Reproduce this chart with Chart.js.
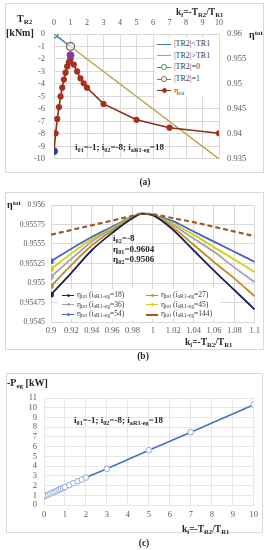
<!DOCTYPE html>
<html>
<head>
<meta charset="utf-8">
<script src="https://cdn.jsdelivr.net/npm/chart.js@4.4.1/dist/chart.umd.min.js"></script>
<style>
  body { margin: 0; background: #fff; }
  #page { position: relative; width: 268px; height: 550px; overflow: hidden; font-family: "Liberation Serif", serif; color: #262626; }
  .box { position: absolute; border: 1px solid #d9d9d9; box-sizing: border-box; }
  canvas { position: absolute; }
  .t { position: absolute; white-space: nowrap; font-weight: bold; font-size: 9.5px; line-height: 10px; }
  .t sub { font-size: 70%; vertical-align: -0.3em; line-height: 0; }
  .t sup { font-size: 70%; vertical-align: 0.45em; line-height: 0; }
  .cap { position: absolute; font-weight: bold; font-size: 9.5px; line-height: 10px; transform: translateX(-50%); }
  .bg { position: absolute; background: #fff; }
  .li { position: absolute; height: 10px; font-size: 8px; line-height: 10px; color: #404040; white-space: nowrap; }
  .li .ln { position: absolute; left: 0; top: 4.5px; height: 0; }
  .li .mk { position: absolute; border-radius: 50%; box-sizing: border-box; }
  .li .lt { position: absolute; top: 0; }
  .li sub { font-size: 75%; vertical-align: -0.25em; line-height: 0; }
</style>
</head>
<body>
<div id="page">
  <!-- (a) -->
  <div class="box" style="left:5px;top:3px;width:259px;height:170px"></div>
  <canvas id="chartA" width="259" height="170" style="left:5px;top:3px"></canvas>
  <div class="t" style="left:17px;top:14px;font-size:10px">T<sub>R2</sub></div>
  <div class="t" style="left:6px;top:28px;font-size:10px">[kNm]</div>
  <div class="t" style="left:176px;top:7px">k<sub>l</sub>=-T<sub>R2</sub>/T<sub>R1</sub></div>
  <div class="t" style="left:249px;top:30px;font-size:10px">η<sup>tot</sup></div>
  <div class="bg" style="left:155px;top:38px;width:64px;height:59px"></div>
  <div class="t" style="left:75px;top:142px;font-size:9px">i<sub>01</sub>=-1; i<sub>02</sub>=-8; i<sub>aR1-eg</sub>=18</div>
  <div class="cap" style="left:145px;top:177px">(a)</div>

  <!-- (b) -->
  <div class="box" style="left:5px;top:192px;width:259px;height:158px"></div>
  <canvas id="chartB" width="259" height="158" style="left:5px;top:192px"></canvas>
  <div class="t" style="left:7px;top:200px;font-size:10px">η<sup>tot</sup></div>
  <div class="t" style="left:185px;top:337px">k<sub>l</sub>=-T<sub>R2</sub>/T<sub>R1</sub></div>
  <div class="t" style="left:113px;top:233px;font-size:9px">i<sub>02</sub>=-8</div>
  <div class="t" style="left:113px;top:243.5px;font-size:9px">η<sub>01</sub>=0.9604</div>
  <div class="t" style="left:113px;top:253.5px;font-size:9px">η<sub>02</sub>=0.9506</div>
  <div class="bg" style="left:58px;top:289px;width:163px;height:30px"></div>
  <div class="cap" style="left:143px;top:350.5px">(b)</div>

  <!-- (c) -->
  <div class="box" style="left:6px;top:373px;width:257px;height:160px"></div>
  <canvas id="chartC" width="257" height="160" style="left:6px;top:373px"></canvas>
  <div class="t" style="left:7px;top:378px;font-size:10px">-P<sub>eg</sub> [kW]</div>
  <div class="t" style="left:74px;top:414.5px;font-size:9px">i<sub>01</sub>=-1; i<sub>02</sub>=-8; i<sub>aR1-eg</sub>=18</div>
  <div class="t" style="left:182px;top:524px">k<sub>l</sub>=-T<sub>R2</sub>/T<sub>R1</sub></div>
  <div class="cap" style="left:144px;top:538px">(c)</div>
</div>
<script>
// (a) torque lines and total efficiency vs kl
const kLow = [0, 1];
const tr2Low = [0, -1];
const kHigh = [1, 10];
const tr2High = [-1, -10];
const kZero = [0];
const tr2Zero = [0];
const kOne = [1];
const tr2One = [-1];
const kEta = [0, 0.1, 0.2, 0.3, 0.4, 0.5, 0.6, 0.7, 0.8, 0.9, 1, 1.2, 1.4, 1.6, 1.8, 2, 3, 5, 7, 10];
const etaTot = [0.93663, 0.94013, 0.943, 0.94538, 0.9475, 0.94925, 0.95088, 0.95225, 0.9535, 0.95438, 0.955,
  0.95388, 0.9525, 0.95113, 0.95013, 0.94925, 0.946, 0.94283, 0.94125, 0.94013];
const kEtaMark = [0, 1];
const etaMark = [0.93655, 0.95575];

// (b) zoom around kl = 1 for several iaR1-eg
const kZoom = [0.9, 0.92, 0.94, 0.96, 0.98, 0.99, 1, 1.02, 1.04, 1.06, 1.08, 1.1];
const eta18 = [0.95485, 0.95513, 0.95542, 0.95564, 0.95583, 0.95589, 0.95587, 0.95568, 0.95542, 0.95516, 0.95491, 0.95466];
const eta27 = [0.95496, 0.95523, 0.95548, 0.95567, 0.95584, 0.95589, 0.95587, 0.95571, 0.95549, 0.95527, 0.95506, 0.95483];
const eta36 = [0.95508, 0.95531, 0.95553, 0.95569, 0.95584, 0.95589, 0.95587, 0.95574, 0.95557, 0.9554, 0.9552, 0.95501];
const eta45 = [0.95518, 0.95538, 0.95556, 0.9557, 0.95585, 0.95589, 0.95587, 0.95576, 0.95562, 0.95546, 0.9553, 0.95514];
const eta54 = [0.95528, 0.95544, 0.95559, 0.95572, 0.95585, 0.95589, 0.95587, 0.95579, 0.95566, 0.95553, 0.9554, 0.95527];
const eta144 = [0.95562, 0.95568, 0.95574, 0.9558, 0.95586, 0.95589, 0.95588, 0.95583, 0.95578, 0.95572, 0.95566, 0.9556];

// (c) generated power
const kPeg = [0, 0.1, 0.2, 0.3, 0.4, 0.5, 0.6, 0.7, 0.8, 0.9, 1, 1.2, 1.4, 1.6, 1.8, 2, 3, 5, 7, 10];
const pegKw = [0.88, 0.98, 1.07, 1.17, 1.27, 1.36, 1.46, 1.56, 1.65, 1.75, 1.85, 2.04, 2.24, 2.43, 2.62, 2.82, 3.73, 5.63, 7.48, 10.32];

Chart.defaults.font.family = "'Liberation Serif', serif";
Chart.defaults.color = '#595959';
Chart.defaults.animation = false;
Chart.defaults.events = [];
Chart.defaults.plugins.legend.display = false;
Chart.defaults.plugins.tooltip.enabled = false;

const GRID = '#d9d9d9';
const pts = (xs, ys) => xs.map((x, i) => ({ x: x, y: ys[i] }));

// HTML legend built from the datasets
function drawLegend(chart, place) {
  const page = document.getElementById('page');
  chart.data.datasets
    .filter((d) => d.legendOrder !== undefined)
    .sort((a, b) => a.legendOrder - b.legendOrder)
    .forEach((d, i) => {
      const p = place(i);
      const item = document.createElement('div');
      item.className = 'li';
      item.style.left = p.x + 'px';
      item.style.top = (p.y - 5) + 'px';
      item.style.fontSize = p.size + 'px';
      const style = d.borderDash ? 'dashed' : 'solid';
      let html = '<span class="ln" style="width:' + p.w + 'px;border-top:' + (d.legendLine || 1.5) + 'px ' + style + ' ' + d.borderColor + '"></span>';
      if (d.legendMarker) {
        const m = d.legendMarker;
        html += '<span class="mk" style="left:' + (p.w / 2 - m.r) + 'px;top:' + (5 - m.r) + 'px;width:' + (2 * m.r) + 'px;height:' + (2 * m.r) +
          'px;background:' + m.fill + ';border:' + m.bw + 'px solid ' + m.stroke + '"></span>';
      }
      html += '<span class="lt" style="left:' + p.tx + 'px"></span>';
      item.innerHTML = html;
      const text = item.querySelector('.lt');
      if (d.labelHtml) text.innerHTML = d.labelHtml;
      else text.textContent = d.label;
      page.appendChild(item);
    });
}

// chart (a)
const chartA = new Chart(document.getElementById('chartA'), {
  type: 'scatter',
  data: {
    datasets: [
      {
        label: 'ηtot limits', data: pts(kEtaMark, etaMark), yAxisID: 'y2', showLine: false,
        pointRadius: 3.5, pointBackgroundColor: ['#3F3F8F', '#7B3F9E'], pointBorderColor: ['#3F3F8F', '#7B3F9E']
      },
      {
        label: '|TR2|=0', legendOrder: 2, data: pts(kZero, tr2Zero), yAxisID: 'y', showLine: false,
        borderColor: '#3E9B3E', pointRadius: 4, pointBorderWidth: 1.5, pointBorderColor: '#3E9B3E', pointBackgroundColor: 'rgba(200,240,200,0.4)',
        legendMarker: { r: 3, fill: '#fff', stroke: '#3E9B3E', bw: 1.2 }
      },
      {
        label: '|TR2|=1', legendOrder: 3, data: pts(kOne, tr2One), yAxisID: 'y', showLine: false,
        borderColor: '#8E6E4E', pointRadius: 4, pointBorderWidth: 1.5, pointBorderColor: '#8E6E4E', pointBackgroundColor: 'rgba(255,255,255,0.6)',
        legendMarker: { r: 3, fill: '#fff', stroke: '#8E6E4E', bw: 1.2 }
      },
      {
        label: 'ηtot', labelHtml: 'η<sub>tot</sub>', legendOrder: 4, data: pts(kEta, etaTot), yAxisID: 'y2', showLine: true,
        borderColor: '#8C2D19', borderWidth: 1.6, pointRadius: 2.3, pointBackgroundColor: '#A5321B', pointBorderColor: '#A5321B',
        legendMarker: { r: 2.5, fill: '#A5321B', stroke: '#A5321B', bw: 1 }
      },
      {
        label: '|TR2|<TR1', legendOrder: 0, data: pts(kLow, tr2Low), yAxisID: 'y', showLine: true,
        borderColor: '#4472C4', borderWidth: 1.5, pointRadius: 0
      },
      {
        label: '|TR2|>TR1', legendOrder: 1, data: pts(kHigh, tr2High), yAxisID: 'y', showLine: true,
        borderColor: '#BFA346', borderWidth: 1.5, pointRadius: 0
      }
    ]
  },
  options: {
    responsive: false,
    layout: { padding: { bottom: 9 } },
    scales: {
      x: {
        type: 'linear', position: 'top', min: 0, max: 10,
        ticks: { stepSize: 1, padding: 6, font: { size: 8 }, maxRotation: 0, autoSkip: false },
        grid: { color: GRID, drawTicks: false }, border: { display: false },
        afterFit: (s) => { s.height = 31; }
      },
      y: {
        position: 'left', min: -10, max: 0,
        ticks: { stepSize: 1, padding: 9, font: { size: 8.5 }, autoSkip: false },
        grid: { color: GRID, drawTicks: false }, border: { display: false },
        afterFit: (s) => { s.width = 49; }
      },
      y2: {
        position: 'right', min: 0.935, max: 0.96,
        ticks: { stepSize: 0.005, padding: 8, font: { size: 8.5 }, autoSkip: false, callback: (v) => +v.toFixed(3) },
        grid: { display: false, drawTicks: false }, border: { display: false },
        afterFit: (s) => { s.width = 45; }
      }
    }
  }
});
drawLegend(chartA, (i) => ({ x: 157, y: 44 + i * 11.7, w: 14, tx: 17, size: 8 }));

// chart (b)
const firstDot = (ctx) => (ctx.dataIndex === 0 ? 2 : 0);
function zoomSet(label, ys, color, order, dashed) {
  return {
    label: 'ηtot (iaR1-eg=' + label + ')',
    labelHtml: 'η<sub>tot</sub> (i<sub>aR1-eg</sub>=' + label + ')',
    legendOrder: order,
    data: pts(kZoom, ys),
    showLine: true,
    cubicInterpolationMode: 'monotone',
    borderColor: color,
    borderWidth: dashed ? 2.2 : 1.8,
    borderDash: dashed ? [5, 3] : undefined,
    pointRadius: dashed ? 0 : firstDot,
    pointBackgroundColor: color,
    pointBorderColor: color,
    legendLine: dashed ? 2 : 1.8,
    legendMarker: dashed ? null : { r: 1.5, fill: color, stroke: color, bw: 1 }
  };
}
const chartB = new Chart(document.getElementById('chartB'), {
  type: 'scatter',
  data: {
    datasets: [
      zoomSet('144', eta144, '#9A5A2A', 5, true),
      zoomSet('18', eta18, '#1F1F5C', 0),
      zoomSet('27', eta27, '#BF9020', 1),
      zoomSet('36', eta36, '#A5A5A5', 2),
      zoomSet('45', eta45, '#CFCF10', 3),
      zoomSet('54', eta54, '#4466C4', 4)
    ]
  },
  options: {
    responsive: false,
    layout: { padding: { top: 13, right: 7 } },
    scales: {
      x: {
        type: 'linear', min: 0.9, max: 1.1,
        ticks: { stepSize: 0.02, padding: 4, font: { size: 8.5 }, maxRotation: 0, autoSkip: false, callback: (v) => +v.toFixed(2) },
        grid: { color: GRID, drawTicks: false }, border: { display: false },
        afterFit: (s) => { s.height = 28; }
      },
      y: {
        min: 0.9545, max: 0.956,
        ticks: { stepSize: 0.00025, padding: 6, font: { size: 7.8 }, autoSkip: false, callback: (v) => +v.toFixed(5) },
        grid: { color: GRID, drawTicks: false }, border: { display: false },
        afterFit: (s) => { s.width = 46; }
      }
    }
  }
});
drawLegend(chartB, (i) => ({ x: i % 2 ? 146 : 62, y: 295 + Math.floor(i / 2) * 9.6, w: 12, tx: 15, size: 7.6 }));

// chart (c)
new Chart(document.getElementById('chartC'), {
  type: 'scatter',
  data: {
    datasets: [{
      label: '-Peg', data: pts(kPeg, pegKw), showLine: true,
      borderColor: '#4472C4', borderWidth: 1.6,
      pointRadius: 2.8, pointBorderWidth: 1, pointBorderColor: '#8FAADC', pointBackgroundColor: '#fff'
    }]
  },
  options: {
    responsive: false,
    layout: { padding: { top: 25, right: 6 } },
    scales: {
      x: {
        type: 'linear', min: 0, max: 10,
        ticks: { stepSize: 1, padding: 5, font: { size: 8.5 }, maxRotation: 0, autoSkip: false },
        grid: { color: '#e6e6e6', drawTicks: false }, border: { display: false },
        afterFit: (s) => { s.height = 28; }
      },
      y: {
        min: 0, max: 11,
        ticks: { stepSize: 1, padding: 7, font: { size: 8.5 }, autoSkip: false },
        grid: { color: '#e6e6e6', drawTicks: false }, border: { display: false },
        afterFit: (s) => { s.width = 38; }
      }
    }
  }
});
</script>
</body>
</html>
